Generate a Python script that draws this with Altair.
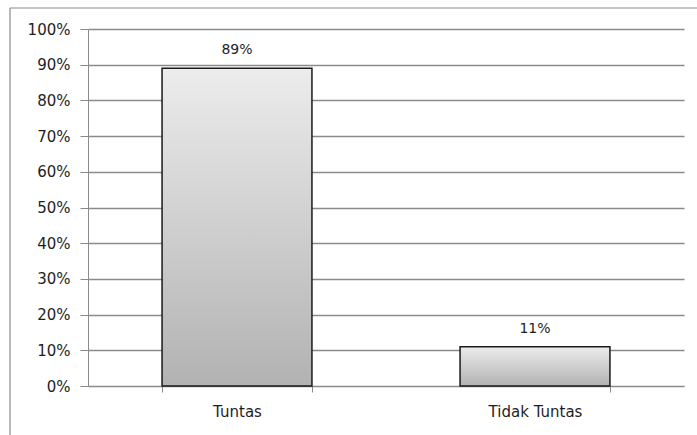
import altair as alt
import pandas as pd

# Completion categories and their shares
categories = ["Tuntas", "Tidak Tuntas"]
shares = [0.89, 0.11]
share_labels = ["89%", "11%"]
y_ticks = [0.0, 0.1, 0.2, 0.3, 0.4, 0.5, 0.6, 0.7, 0.8, 0.9, 1.0]

df = pd.DataFrame({"kategori": categories, "persen": shares, "label": share_labels})

FONT = "DejaVu Sans"
GRID = "#8a8a8a"
TEXT = "#1e1e1e"

x_enc = alt.X(
    "kategori:N",
    sort=categories,
    title=None,
    scale=alt.Scale(paddingInner=0.497, paddingOuter=0.2485),
    axis=alt.Axis(
        labelAngle=0,
        tickBand="extent",
        tickSize=6,
        tickColor=GRID,
        domainColor=GRID,
        labelPadding=12,
        labelFont=FONT,
        labelFontSize=15,
        labelColor=TEXT,
        grid=False,
    ),
)

y_enc = alt.Y(
    "persen:Q",
    title=None,
    scale=alt.Scale(domain=[0, 1], nice=False),
    axis=alt.Axis(
        format=".0%",
        values=y_ticks,
        tickCount=len(y_ticks) + 1,
        labelOverlap=False,
        tickSize=8,
        tickColor=GRID,
        domainColor=GRID,
        gridColor=GRID,
        gridWidth=1.3,
        labelPadding=10,
        labelFont=FONT,
        labelFontSize=15,
        labelColor=TEXT,
    ),
)

bars = alt.Chart(df).mark_bar(
    stroke="#1a1a1a",
    strokeWidth=1.5,
    fill=alt.Gradient(
        gradient="linear",
        x1=0, y1=0, x2=0, y2=1,
        stops=[
            alt.GradientStop(color="#ececec", offset=0),
            alt.GradientStop(color="#b2b2b2", offset=1),
        ],
    ),
).encode(x=x_enc, y=y_enc)

labels = alt.Chart(df).mark_text(
    baseline="bottom", dy=-11, font=FONT, fontSize=14, color=TEXT
).encode(x=alt.X("kategori:N", sort=categories), y="persen:Q", text="label:N")

# Outer chart frame (left and top edges)
frame_left = alt.Chart().mark_rule(color="#8a8a8a", strokeWidth=1.2).encode(
    x=alt.value(-78), y=alt.value(-21), y2=alt.value(420)
)
frame_top = alt.Chart().mark_rule(color="#8a8a8a", strokeWidth=1.2).encode(
    x=alt.value(-78), x2=alt.value(640), y=alt.value(-21)
)

chart = (
    alt.layer(bars, labels, frame_left, frame_top)
    .properties(
        width=596,
        height=357,
        autosize=alt.AutoSizeParams(type="none"),
        padding={"left": 88, "top": 29, "right": 13, "bottom": 49},
        background="white",
    )
    .configure_view(stroke=None)
)

chart.save("out.html", embed_options={"renderer": "svg", "actions": False})
